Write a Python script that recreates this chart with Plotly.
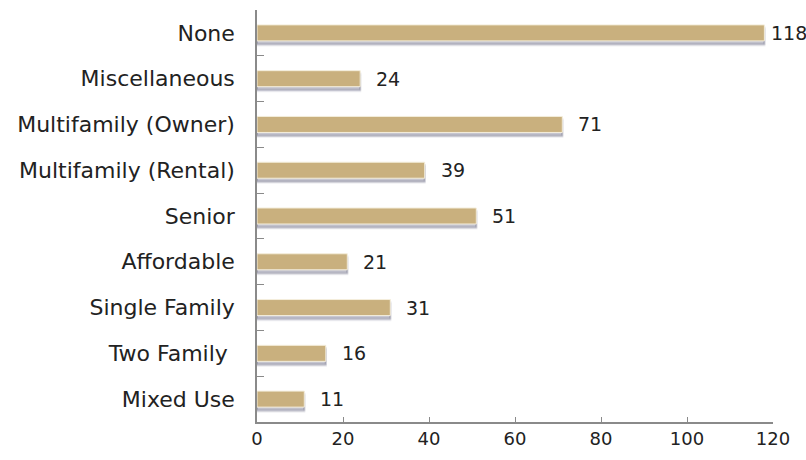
import plotly.graph_objects as go

categories = ["None", "Miscellaneous", "Multifamily (Owner)", "Multifamily (Rental)",
              "Senior", "Affordable", "Single Family", "Two Family ", "Mixed Use"]
counts = [118, 24, 71, 39, 51, 21, 31, 16, 11]
x_ticks = [0, 20, 40, 60, 80, 100, 120]

FONT = "DejaVu Sans"
BAR = "#C9B07E"
BAR_W = 0.35
X_MAX = 120

fig = go.Figure()

# soft drop shadow under each bar (several faint layers)
for dy, alpha in [(0.10, 0.08), (0.08, 0.12), (0.06, 0.16)]:
    fig.add_trace(go.Bar(
        y=categories, x=counts, orientation="h",
        width=BAR_W, offset=-BAR_W / 2 + dy,
        marker=dict(color=f"rgba(80,80,110,{alpha})",
                    line=dict(color=f"rgba(80,80,110,{alpha})", width=2)),
        hoverinfo="skip", showlegend=False,
    ))

fig.add_trace(go.Bar(
    y=categories, x=counts, orientation="h",
    width=BAR_W, offset=-BAR_W / 2,
    marker=dict(color=BAR, line=dict(color="#F4EEDC", width=1)),
    showlegend=False,
))

# value labels just right of each bar; the longest one sits closer
for c, v in zip(categories, counts):
    fig.add_annotation(x=v, y=c, text=str(v), showarrow=False,
                       xanchor="left", xshift=14 if v < 0.9 * X_MAX else 5,
                       font=dict(family=FONT, size=19, color="#222"))

fig.update_layout(
    width=806, height=460,
    margin=dict(l=257, r=33, t=10, b=38),
    paper_bgcolor="white", plot_bgcolor="white",
    barmode="overlay",
    font=dict(family=FONT, color="#222"),
)
fig.update_xaxes(
    range=[0, X_MAX], tickvals=x_ticks, showgrid=False, zeroline=False,
    showline=True, linecolor="#8a8a8a", linewidth=1.5,
    ticks="inside", ticklen=5, tickcolor="#8a8a8a",
    tickfont=dict(family=FONT, size=18, color="#222"),
)
fig.update_yaxes(
    categoryorder="array", categoryarray=categories, autorange="reversed",
    showgrid=False, showline=True, linecolor="#8a8a8a", linewidth=1.5,
    ticks="inside", ticklen=7, tickcolor="#8a8a8a", tickson="boundaries",
    ticklabelstandoff=16,
    tickfont=dict(family=FONT, size=22, color="#222"),
)

fig.write_html("out.html")
